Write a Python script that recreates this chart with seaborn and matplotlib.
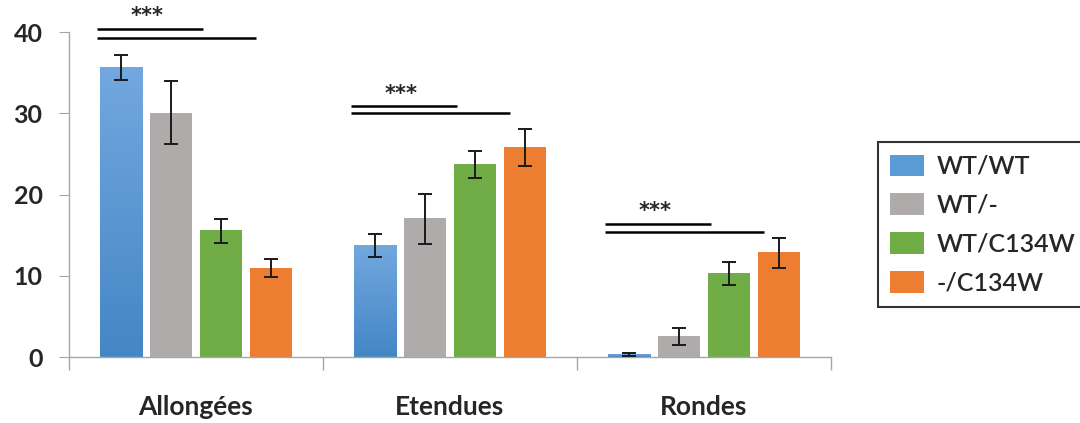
import numpy as np
import pandas as pd
import matplotlib
matplotlib.use("Agg")
import matplotlib.pyplot as plt
from matplotlib.colors import LinearSegmentedColormap
from matplotlib.patches import Patch
import seaborn as sns

# ── data ──────────────────────────────────────────────────────
categories = ["Allongées", "Etendues", "Rondes"]
genotypes = ["WT/WT", "WT/-", "WT/C134W", "-/C134W"]

wt_wt = [35.7, 13.8, 0.35]
wt_ko = [30.1, 17.1, 2.6]
wt_c134w = [15.6, 23.8, 10.3]
ko_c134w = [10.9, 25.8, 12.9]

# error bar ends (low, high)
wt_wt_err = [(34.1, 37.2), (12.3, 15.2), (0.15, 0.5)]
wt_ko_err = [(26.2, 34.0), (13.9, 20.1), (1.5, 3.6)]
wt_c134w_err = [(14.0, 17.0), (22.1, 25.4), (8.9, 11.7)]
ko_c134w_err = [(9.8, 12.1), (23.5, 28.1), (11.0, 14.7)]

# significance brackets per category: (y of short line, y of long line)
sig_y = [(40.4, 39.3), (30.9, 30.0), (16.4, 15.4)]

colors = ["#5B9BD5", "#AFABAB", "#70AD47", "#ED7D31"]

# ── build table ───────────────────────────────────────────────
means = [wt_wt, wt_ko, wt_c134w, ko_c134w]
errs = [wt_wt_err, wt_ko_err, wt_c134w_err, ko_c134w_err]
rows = []
for g, vals in zip(genotypes, means):
    for c, v in zip(categories, vals):
        rows.append({"Forme": c, "Génotype": g, "Valeur": v})
df = pd.DataFrame(rows)

sns.set_style("white")
plt.rcParams["font.family"] = ["Lato", "DejaVu Sans"]

fig = plt.figure(figsize=(10.8, 4.23), dpi=100)
ax = fig.add_axes([0.0639, 0.156, 0.7055, 0.768])

sns.barplot(data=df, x="Forme", y="Valeur", hue="Génotype",
            order=categories, hue_order=genotypes, palette=colors,
            saturation=1, width=0.79, gap=0.16, errorbar=None,
            edgecolor="none", legend=False, ax=ax)

# patches come out hue-major: genotype by genotype, category by category
bars = [p for p in ax.patches if p.get_height() > 0]
grad = LinearSegmentedColormap.from_list("blue_grad", ["#4586C6", "#72A8DE"])
for gi in range(len(genotypes)):
    for ci in range(len(categories)):
        p = bars[gi * len(categories) + ci]
        x = p.get_x() + p.get_width() / 2
        lo, hi = errs[gi][ci]
        v = means[gi][ci]
        if gi == 0:
            # blue bars have a vertical gradient in the original
            p.set_facecolor("none")
            im = ax.imshow(np.linspace(0, 1, 256).reshape(-1, 1), cmap=grad,
                           origin="lower", aspect="auto",
                           extent=[p.get_x(), p.get_x() + p.get_width(), 0, v],
                           zorder=p.get_zorder())
            im.set_clip_path(p)
        ax.errorbar(x, v, yerr=[[v - lo], [hi - v]], fmt="none",
                    ecolor="#1a1a1a", elinewidth=1.4, capsize=5, capthick=1.4,
                    zorder=5)

# significance lines + stars
for ci, (y1, y2) in enumerate(sig_y):
    first = bars[ci]
    second = bars[1 * len(categories) + ci]
    third = bars[2 * len(categories) + ci]
    x0 = first.get_x() - 0.012
    x1 = second.get_x() + second.get_width() + 0.045
    x2 = third.get_x() + third.get_width() + 0.055
    ax.plot([x0, x1], [y1, y1], color="black", lw=1.8, clip_on=False,
            solid_capstyle="butt")
    ax.plot([x0, x2], [y2, y2], color="black", lw=1.8, clip_on=False,
            solid_capstyle="butt")
    ax.text((x0 + x1) / 2 - 0.01, y1 + 0.3, "***", ha="center", va="bottom",
            fontsize=15, fontweight="bold", family="DejaVu Sans",
            clip_on=False)

# axes styling
ax.set_xlim(-0.5, 2.5)
ax.set_ylim(0, 40)
ax.set_yticks([0, 10, 20, 30, 40])
ax.set_xlabel("")
ax.set_ylabel("")
for s in ["top", "right"]:
    ax.spines[s].set_visible(False)
for s in ["left", "bottom"]:
    ax.spines[s].set_color("#A6A6A6")
    ax.spines[s].set_linewidth(1.0)
ax.tick_params(axis="y", which="major", left=True, direction="out", length=7,
               color="#A6A6A6", labelsize=18, pad=12)
ax.tick_params(axis="x", which="major", length=0, labelsize=19, pad=27)
ax.set_xticks([-0.5, 0.5, 1.5, 2.5], minor=True)
ax.tick_params(axis="x", which="minor", bottom=True, direction="out",
               length=9, width=1.0, color="#A6A6A6")
for lab in ax.get_yticklabels() + ax.get_xticklabels():
    lab.set_fontweight("bold")

# legend
handles = [Patch(facecolor=c, edgecolor="none") for c in colors]
leg = fig.legend(handles, genotypes, loc="center left",
                 bbox_to_anchor=(0.8125, 0.469), frameon=True, fancybox=False,
                 fontsize=18, handlelength=1.35, handleheight=0.95,
                 labelspacing=0.62, handletextpad=0.5, borderpad=0.5,
                 borderaxespad=0.0)
leg.get_frame().set_edgecolor("black")
leg.get_frame().set_linewidth(1.5)
for t in leg.get_texts():
    t.set_fontweight("semibold")

fig.savefig("out.png", dpi=100)
